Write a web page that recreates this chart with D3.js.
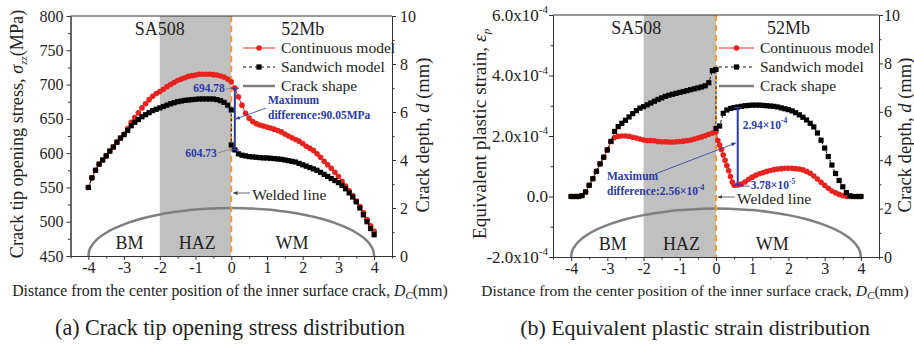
<!DOCTYPE html>
<html>
<head>
<meta charset="utf-8">
<script src="https://cdn.jsdelivr.net/npm/d3@7"></script>
<style>
body { margin: 0; background: #fff; }
svg text { font-family: "Liberation Serif", "Times New Roman", serif; fill: #222; }
</style>
</head>
<body>
<script>
// ---- data ----
// (a) crack tip opening stress, MPa  [Dc (mm), value]
var stressCont = [[-4.0,550],[-3.9,564],[-3.8,575],[-3.7,584],[-3.6,590],[-3.5,596],[-3.4,603],[-3.3,609],[-3.2,616],[-3.1,622],[-3.0,628],[-2.9,636],[-2.8,645],[-2.7,652],[-2.6,659],[-2.5,666],[-2.4,672],[-2.3,678],[-2.2,683],[-2.1,687],[-2.0,690],[-1.9,693],[-1.8,697],[-1.7,700],[-1.6,703],[-1.5,706],[-1.4,708],[-1.3,710],[-1.2,712],[-1.1,713],[-1.0,714],[-0.9,715],[-0.8,715],[-0.7,715],[-0.6,715],[-0.5,714.5],[-0.4,714],[-0.3,712.5],[-0.2,711],[-0.1,708],[0,704],[0.1,694.78],[0.2,682],[0.3,670],[0.4,658],[0.5,651],[0.6,646],[0.7,643],[0.8,641],[0.9,639.5],[1.0,638],[1.1,636.5],[1.2,635],[1.3,633],[1.4,631],[1.5,628],[1.6,625],[1.7,622.5],[1.8,620],[1.9,617.5],[2.0,614],[2.1,610],[2.2,607],[2.3,604],[2.4,599],[2.5,594],[2.6,588],[2.7,583],[2.8,578],[2.9,572],[3.0,566],[3.1,559],[3.2,552],[3.3,545],[3.4,538],[3.5,530],[3.6,522],[3.7,513],[3.8,503],[3.9,494],[4.0,486]];
var stressSand = [[-4.0,550],[-3.9,564],[-3.8,575],[-3.7,584],[-3.6,590],[-3.5,596],[-3.4,603],[-3.3,609],[-3.2,616],[-3.1,622],[-3.0,627],[-2.9,633],[-2.8,640],[-2.7,645],[-2.6,649],[-2.5,653],[-2.4,656],[-2.3,659],[-2.2,662],[-2.1,664],[-2.0,666],[-1.9,668],[-1.8,670],[-1.7,672],[-1.6,673.5],[-1.5,675],[-1.4,676],[-1.3,677],[-1.2,677.5],[-1.1,678],[-1.0,678.5],[-0.9,679],[-0.8,679],[-0.7,679],[-0.6,679],[-0.5,679],[-0.4,678],[-0.3,676.5],[-0.2,674],[-0.1,670],[0,663],[0,612],[0.1,604.73],[0.2,599],[0.3,597],[0.4,596],[0.5,595],[0.6,594.5],[0.7,594],[0.8,593.5],[0.9,593],[1.0,593],[1.1,592.5],[1.2,592],[1.3,591.5],[1.4,591],[1.5,590],[1.6,589],[1.7,588],[1.8,587],[1.9,585],[2.0,583],[2.1,581],[2.2,579],[2.3,577],[2.4,575],[2.5,572],[2.6,569],[2.7,566],[2.8,563],[2.9,560],[3.0,557],[3.1,553],[3.2,548],[3.3,542],[3.4,536],[3.5,529],[3.6,520],[3.7,510],[3.8,500],[3.9,490],[4.0,481]];

// (b) equivalent plastic strain, in units of 1e-4
var strainCont = [[-4.0,0],[-3.9,0],[-3.8,0],[-3.7,0.03],[-3.6,0.15],[-3.5,0.37],[-3.4,0.59],[-3.3,0.83],[-3.2,1.08],[-3.1,1.30],[-3.0,1.54],[-2.9,1.82],[-2.8,1.95],[-2.7,1.99],[-2.6,2.0],[-2.5,2.0],[-2.4,1.99],[-2.3,1.96],[-2.2,1.93],[-2.1,1.90],[-2.0,1.87],[-1.9,1.85],[-1.8,1.85],[-1.7,1.84],[-1.6,1.82],[-1.5,1.81],[-1.4,1.81],[-1.3,1.80],[-1.2,1.80],[-1.1,1.81],[-1.0,1.82],[-0.9,1.83],[-0.8,1.85],[-0.7,1.87],[-0.6,1.90],[-0.5,1.93],[-0.4,1.97],[-0.3,2.01],[-0.2,2.06],[-0.1,2.10],[0,2.13],[0.05,1.85],[0.1,1.70],[0.15,1.55],[0.2,1.37],[0.25,1.20],[0.3,1.02],[0.35,0.85],[0.4,0.66],[0.45,0.48],[0.5,0.37],[0.6,0.378],[0.7,0.41],[0.8,0.48],[0.9,0.57],[1.0,0.64],[1.1,0.70],[1.2,0.75],[1.3,0.79],[1.4,0.83],[1.5,0.86],[1.6,0.89],[1.7,0.91],[1.8,0.92],[1.9,0.93],[2.0,0.93],[2.1,0.93],[2.2,0.92],[2.3,0.91],[2.4,0.88],[2.5,0.83],[2.6,0.77],[2.7,0.68],[2.8,0.58],[2.9,0.47],[3.0,0.37],[3.1,0.27],[3.2,0.18],[3.3,0.12],[3.4,0.07],[3.5,0.03],[3.6,0],[3.7,0],[3.8,0],[3.9,0],[4.0,0]];
var strainSand = [[-4.0,0],[-3.9,0],[-3.8,0],[-3.7,0.03],[-3.6,0.15],[-3.5,0.37],[-3.4,0.59],[-3.3,0.83],[-3.2,1.08],[-3.1,1.30],[-3.0,1.54],[-2.9,1.82],[-2.8,2.15],[-2.7,2.31],[-2.6,2.42],[-2.5,2.52],[-2.4,2.63],[-2.3,2.74],[-2.2,2.84],[-2.1,2.92],[-2.0,2.97],[-1.9,3.03],[-1.8,3.09],[-1.7,3.15],[-1.6,3.21],[-1.5,3.26],[-1.4,3.31],[-1.3,3.35],[-1.2,3.38],[-1.1,3.41],[-1.0,3.44],[-0.9,3.47],[-0.8,3.50],[-0.7,3.53],[-0.6,3.56],[-0.5,3.59],[-0.4,3.62],[-0.3,3.66],[-0.2,3.76],[-0.1,4.16],[0,4.2],[0,2.25],[0.1,2.33],[0.2,2.75],[0.3,2.86],[0.4,2.91],[0.5,2.94],[0.6,2.96],[0.7,2.98],[0.8,3.0],[0.9,3.01],[1.0,3.02],[1.1,3.02],[1.2,3.02],[1.3,3.01],[1.4,3.0],[1.5,2.99],[1.6,2.98],[1.7,2.96],[1.8,2.93],[1.9,2.9],[2.0,2.87],[2.1,2.83],[2.2,2.77],[2.3,2.70],[2.4,2.62],[2.5,2.53],[2.6,2.42],[2.7,2.30],[2.8,2.10],[2.9,1.86],[3.0,1.60],[3.1,1.32],[3.2,1.04],[3.3,0.76],[3.4,0.53],[3.5,0.32],[3.6,0.13],[3.7,0.02],[3.8,0],[3.9,0],[4.0,0]];

// crack shape, depth d (mm) on the right axis
var crackShape = [[-4,0],[-3.98,0.2],[-3.9,0.44],[-3.75,0.7],[-3.5,0.97],[-3,1.32],[-2.5,1.56],[-2,1.73],[-1.5,1.85],[-1,1.94],[-0.5,1.98],[0,2],[0.5,1.98],[1,1.94],[1.5,1.85],[2,1.73],[2.5,1.56],[3,1.32],[3.5,0.97],[3.75,0.7],[3.9,0.44],[3.98,0.2],[4,0]];

// ticks
var xTicks = [-4,-3,-2,-1,0,1,2,3,4];
var xMinor = [-4.5,-3.5,-2.5,-1.5,-0.5,0.5,1.5,2.5,3.5,4.5];
var stressTicks = [450,500,550,600,650,700,750,800];
var stressMinor = [475,525,575,625,675,725,775];
var strainTicks = [-2,0,2,4,6];
var strainMinor = [-1,1,3,5];
var depthTicks = [0,2,4,6,8,10];
var depthMinor = [1,3,5,7,9];

var legendNames = ["Continuous model", "Sandwich model", "Crack shape"];

// ---- drawing ----
var svgWidth = 914, svgHeight = 346;
var red = "#e8231f", blue = "#2b3aa6", gray = "#7f7f7f", orange = "#f49b32";

var svg = d3.select("body").append("svg")
  .attr("width", svgWidth)
  .attr("height", svgHeight);

var defs = svg.append("defs");
function arrowMarker(id, color) {
  defs.append("marker")
    .attr("id", id)
    .attr("viewBox", "0 0 10 10")
    .attr("refX", 9).attr("refY", 5)
    .attr("markerWidth", 6).attr("markerHeight", 6)
    .attr("orient", "auto")
    .append("path").attr("d", "M0,1 L10,5 L0,9 z").attr("fill", color);
}
arrowMarker("arrGray", "#444");
arrowMarker("arrBlue", blue);

function styleAxis(g, size) {
  g.attr("font-family", null).attr("font-size", null);
  g.select(".domain").attr("stroke", "#333");
  g.selectAll(".tick line").attr("stroke", "#333");
  g.selectAll(".tick text").attr("font-size", size || 16).attr("fill", "#222");
}

// scale a text's font so it spans the width seen in the picture
function fit(t, width) {
  var w = t.node().getComputedTextLength();
  t.attr("font-size", +t.attr("font-size") * width / w);
}

// write a label with a superscript exponent, e.g. 2.94x10^-4
function supLabel(sel, base, exp, size) {
  sel.append("tspan").text(base);
  sel.append("tspan").attr("dy", -size * 0.45).attr("font-size", size * 0.65).text(exp);
}

function drawPanel(p) {
  var x = d3.scaleLinear().domain([-4.5, 4.5]).range([p.left, p.right]);
  var y = d3.scaleLinear().domain(p.yDomain).range([p.bottom, p.top]);
  var yd = d3.scaleLinear().domain([0, 10]).range([p.bottom, p.top]);
  var g = svg.append("g");

  // HAZ band
  g.append("rect")
    .attr("x", x(-2)).attr("y", p.top)
    .attr("width", x(0) - x(-2)).attr("height", p.bottom - p.top)
    .attr("fill", "#c0c0c0");

  // crack shape
  g.append("path").datum(crackShape)
    .attr("d", d3.line().x(d => x(d[0])).y(d => yd(d[1])).curve(d3.curveMonotoneX))
    .attr("fill", "none").attr("stroke", gray).attr("stroke-width", 2.5);

  // welded line
  g.append("line")
    .attr("x1", x(0)).attr("x2", x(0)).attr("y1", p.top).attr("y2", p.bottom)
    .attr("stroke", orange).attr("stroke-width", 2).attr("stroke-dasharray", "6,4");

  // region labels
  [["SA508", p.sa508, p.top + 19], ["52Mb", 2.0, p.top + 19]].forEach(function(t) {
    g.append("text").attr("x", x(t[1])).attr("y", t[2]).attr("text-anchor", "middle")
      .attr("font-size", 18).text(t[0]);
  });
  [["BM", -2.85], ["HAZ", -0.95], ["WM", p.wm]].forEach(function(t) {
    g.append("text").attr("x", x(t[1])).attr("y", p.bottom - 7).attr("text-anchor", "middle")
      .attr("font-size", 18).text(t[0]);
  });

  // continuous model (red)
  var line = d3.line().x(d => x(d[0])).y(d => y(d[1]));
  g.append("path").datum(p.cont).attr("d", line)
    .attr("fill", "none").attr("stroke", red).attr("stroke-width", 1);
  g.selectAll(".cdot").data(p.cont).enter().append("circle")
    .attr("cx", d => x(d[0])).attr("cy", d => y(d[1])).attr("r", 2.8)
    .attr("fill", red);

  // sandwich model (black)
  g.append("path").datum(p.sand).attr("d", line)
    .attr("fill", "none").attr("stroke", "#111").attr("stroke-width", 1)
    .attr("stroke-dasharray", "3,2");
  g.selectAll(".sdot").data(p.sand).enter().append("rect")
    .attr("x", d => x(d[0]) - 2.6).attr("y", d => y(d[1]) - 2.6)
    .attr("width", 5.2).attr("height", 5.2).attr("fill", "#000");

  // axes
  g.append("line").attr("x1", p.left).attr("x2", p.right).attr("y1", p.top).attr("y2", p.top)
    .attr("stroke", "#333");

  g.append("g").attr("transform", `translate(0,${p.bottom})`)
    .call(d3.axisBottom(x).tickValues(xTicks).tickSize(4).tickPadding(2).tickSizeOuter(0).tickFormat(d => String(d)))
    .call(styleAxis);
  g.append("g").attr("transform", `translate(0,${p.bottom})`)
    .call(d3.axisBottom(x).tickValues(xMinor).tickSize(2.5).tickSizeOuter(0).tickFormat(""))
    .call(styleAxis);

  var left = g.append("g").attr("transform", `translate(${p.left},0)`)
    .call(d3.axisLeft(y).tickValues(p.yTicks).tickSize(4).tickPadding(p.yExp ? 1 : 3).tickSizeOuter(0).tickFormat(d => String(d)))
    .call(g2 => styleAxis(g2, p.yExp ? 17 : 16));
  if (p.yExp) {
    left.selectAll(".tick text").each(function(d) {
      var t = d3.select(this).text(null);
      if (d === 0) { t.text("0.0"); return; }
      supLabel(t, d.toFixed(1) + "x10", "-4", 17);
    });
  }
  g.append("g").attr("transform", `translate(${p.left},0)`)
    .call(d3.axisLeft(y).tickValues(p.yMinor).tickSize(2.5).tickSizeOuter(0).tickFormat(""))
    .call(styleAxis);

  g.append("g").attr("transform", `translate(${p.right},0)`)
    .call(d3.axisRight(yd).tickValues(depthTicks).tickSize(4).tickPadding(p.rightPad).tickSizeOuter(0))
    .call(styleAxis);
  g.append("g").attr("transform", `translate(${p.right},0)`)
    .call(d3.axisRight(yd).tickValues(depthMinor).tickSize(2.5).tickSizeOuter(0).tickFormat(""))
    .call(styleAxis);

  // legend
  var lx = p.legendX, lw = p.legendW;
  [48, 67, 86].forEach(function(ly, i) {
    var l = g.append("line").attr("x1", lx).attr("x2", lx + lw).attr("y1", ly).attr("y2", ly);
    if (i === 0) {
      l.attr("stroke", red).attr("stroke-width", 1);
      g.append("circle").attr("cx", lx + lw / 2).attr("cy", ly).attr("r", 2.8).attr("fill", red);
    } else if (i === 1) {
      l.attr("stroke", "#111").attr("stroke-dasharray", "3,3");
      g.append("rect").attr("x", lx + lw / 2 - 2.6).attr("y", ly - 2.6).attr("width", 5.2).attr("height", 5.2).attr("fill", "#000");
    } else {
      l.attr("stroke", gray).attr("stroke-width", 2.5);
    }
    g.append("text").attr("x", lx + lw + 6).attr("y", ly + 5).attr("font-size", 15.5).text(legendNames[i]);
  });

  // welded line note
  g.append("line").attr("x1", x(0) + 19).attr("x2", x(0) + 2).attr("y1", p.weldY).attr("y2", p.weldY)
    .attr("stroke", "#444").attr("stroke-width", 0.8).attr("marker-end", "url(#arrGray)");
  g.append("text").attr("x", x(0) + 21).attr("y", p.weldY + 7).attr("font-size", 15.5).text("Welded line");

  // axis titles
  var xt = g.append("text").attr("x", p.titleX).attr("y", 296)
    .attr("text-anchor", "middle").attr("font-size", 15);
  xt.append("tspan").text("Distance from the center position of the inner surface crack, ");
  xt.append("tspan").attr("font-style", "italic").text("D");
  xt.append("tspan").attr("font-style", "italic").attr("font-size", 11).attr("dy", 3).text("C");
  xt.append("tspan").attr("dy", -3).text("(mm)");
  fit(xt, p.titleW);

  var yt = g.append("text").attr("transform", `translate(${p.yTitleX},134) rotate(-90)`)
    .attr("text-anchor", "middle").attr("dy", "0.35em").attr("font-size", 15.5);
  p.yTitle(yt);
  fit(yt, p.yTitleW);

  var rt = g.append("text").attr("transform", `translate(${p.rTitleX},135) rotate(-90)`)
    .attr("text-anchor", "middle").attr("dy", "0.35em").attr("font-size", 15.5);
  rt.append("tspan").text("Crack depth, ");
  rt.append("tspan").attr("font-style", "italic").text("d");
  rt.append("tspan").text(" (mm)");
  fit(rt, 155);

  var cap = g.append("text").attr("x", p.titleX).attr("y", 335)
    .attr("text-anchor", "middle").attr("font-size", 19).text(p.caption);
  fit(cap, 350);

  p.annotate(g, x, y);
}

// (a) stress
drawPanel({
  left: 70.5, right: 392, top: 16, bottom: 256,
  yDomain: [450, 800], yTicks: stressTicks, yMinor: stressMinor,
  cont: stressCont, sand: stressSand,
  sa508: -2.0, wm: 1.7, legendX: 243, legendW: 32, weldY: 193,
  rightPad: 4, titleX: 230, titleW: 436, rTitleX: 422,
  yTitleX: 17, yTitleW: 250,
  yTitle: function(t) {
    t.append("tspan").text("Crack tip opening stress, ");
    t.append("tspan").attr("font-style", "italic").text("σ");
    t.append("tspan").attr("font-style", "italic").attr("font-size", 11).attr("dy", 4).text("zz");
    t.append("tspan").attr("dy", -4).text("(MPa)");
  },
  caption: "(a) Crack tip opening stress distribution",
  annotate: function(g, x, y) {
    var ax = x(0.1), top = y(694.78), bot = y(604.73);
    g.append("line").attr("x1", ax).attr("x2", ax).attr("y1", top).attr("y2", bot)
      .attr("stroke", blue).attr("stroke-width", 2);
    [top, bot].forEach(function(v) {
      g.append("line").attr("x1", ax - 4).attr("x2", ax + 4).attr("y1", v).attr("y2", v)
        .attr("stroke", blue).attr("stroke-width", 1.2);
    });
    g.append("text").attr("x", ax - 10).attr("y", top + 4).attr("text-anchor", "end")
      .attr("font-size", 11.5).attr("font-weight", "bold").style("fill", blue).text("694.78");
    g.append("line").attr("x1", ax - 9).attr("x2", ax - 4).attr("y1", top + 1).attr("y2", top)
      .attr("stroke", "#666").attr("stroke-width", 0.6);
    g.append("text").attr("x", ax - 18).attr("y", bot + 7).attr("text-anchor", "end")
      .attr("font-size", 11.5).attr("font-weight", "bold").style("fill", blue).text("604.73");
    g.append("line").attr("x1", ax - 17).attr("x2", ax - 3).attr("y1", bot + 3).attr("y2", bot - 1)
      .attr("stroke", "#666").attr("stroke-width", 0.6);
    g.append("text").attr("x", 268).attr("y", 104).attr("font-size", 11.5)
      .attr("font-weight", "bold").style("fill", blue).text("Maximum");
    g.append("text").attr("x", 268).attr("y", 119).attr("font-size", 11.5)
      .attr("font-weight", "bold").style("fill", blue).text("difference:90.05MPa");
    g.append("line").attr("x1", 266).attr("x2", ax + 1).attr("y1", 108).attr("y2", 119)
      .attr("stroke", blue).attr("stroke-width", 0.8).attr("marker-end", "url(#arrBlue)");
  }
});

// (b) strain
drawPanel({
  left: 553, right: 879, top: 15, bottom: 257,
  yDomain: [-2, 6], yTicks: strainTicks, yMinor: strainMinor, yExp: true,
  cont: strainCont, sand: strainSand,
  sa508: -2.2, wm: 1.55, legendX: 719, legendW: 35, weldY: 197,
  rightPad: 1, titleX: 695, titleW: 428, rTitleX: 904,
  yTitleX: 479, yTitleW: 212,
  yTitle: function(t) {
    t.append("tspan").text("Equivalent plastic strain, ");
    t.append("tspan").attr("font-style", "italic").text("ε");
    t.append("tspan").attr("font-style", "italic").attr("font-size", 11).attr("dy", 4).text("p");
  },
  caption: "(b) Equivalent plastic strain distribution",
  annotate: function(g, x, y) {
    var ax = x(0.6), top = y(2.94), bot = y(0.378);
    g.append("line").attr("x1", ax).attr("x2", ax).attr("y1", top).attr("y2", bot)
      .attr("stroke", blue).attr("stroke-width", 2);
    [top, bot].forEach(function(v) {
      g.append("line").attr("x1", ax - 4).attr("x2", ax + 4).attr("y1", v).attr("y2", v)
        .attr("stroke", blue).attr("stroke-width", 1.2);
    });
    var t1 = g.append("text").attr("x", ax + 5).attr("y", top + 21).attr("font-size", 11.5)
      .attr("font-weight", "bold").style("fill", blue);
    supLabel(t1, "2.94×10", "-4", 11.5);
    g.append("line").attr("x1", ax + 4).attr("x2", ax + 12).attr("y1", bot + 1).attr("y2", bot + 1)
      .attr("stroke", blue).attr("stroke-width", 0.8);
    var t2 = g.append("text").attr("x", ax + 13).attr("y", bot + 4).attr("font-size", 11.5)
      .attr("font-weight", "bold").style("fill", blue);
    supLabel(t2, "3.78×10", "-5", 11.5);
    g.append("text").attr("x", 607).attr("y", 180).attr("font-size", 11.5)
      .attr("font-weight", "bold").style("fill", blue).text("Maximum");
    var t3 = g.append("text").attr("x", 607).attr("y", 195).attr("font-size", 11.5)
      .attr("font-weight", "bold").style("fill", blue);
    supLabel(t3, "difference:2.56×10", "-4", 11.5);
    g.append("line").attr("x1", 655).attr("x2", ax - 2).attr("y1", 174).attr("y2", 143)
      .attr("stroke", blue).attr("stroke-width", 0.8).attr("marker-end", "url(#arrBlue)");
  }
});
</script>
</body>
</html>
